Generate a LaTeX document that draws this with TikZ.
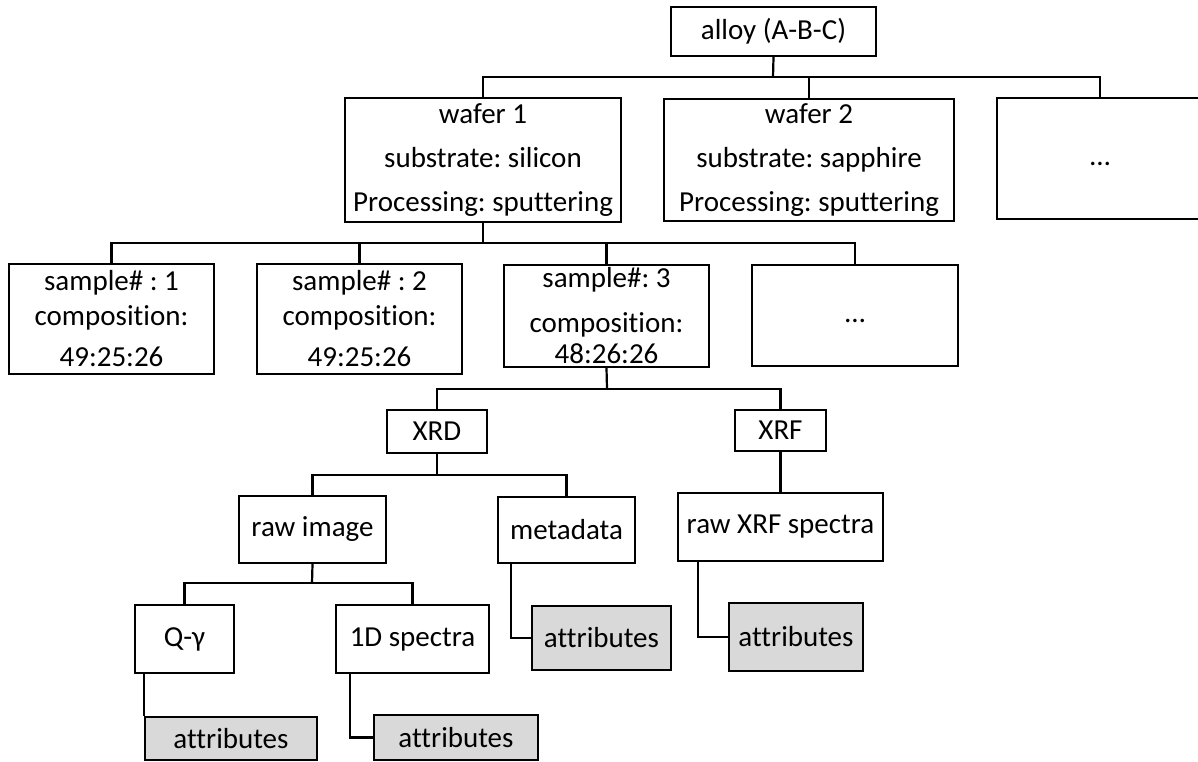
\documentclass[tikz,border=0pt]{standalone}
\usepackage{fontspec}
\setmainfont{Carlito}[Ligatures={NoCommon,NoContextual}]
\frenchspacing
\begin{document}
\begin{tikzpicture}[x=1pt,y=-1pt,
  box/.style={draw=black,line width=2pt,rectangle,inner sep=0pt,align=center,
    font=\fontsize{29}{38}\selectfont},
  attrbox/.style={box,fill=attrgray},
  conn/.style={draw=black,line width=2.2pt,line join=miter}]
\definecolor{attrgray}{HTML}{D9D9D9}
\useasboundingbox (0,0) rectangle (1198,761);
\clip (0,0) rectangle (1198,761);
% level 0
\node[box,minimum width=205pt,minimum height=49pt] (alloy) at (773.5,31.5) {alloy (A-B-C)};
% level 1
\node[box,minimum width=276pt,minimum height=124pt,font=\fontsize{29}{44}\selectfont] (wafer1) at (483,160)
  {wafer 1\\substrate: silicon\\Processing: sputtering};
\node[box,minimum width=290pt,minimum height=122pt,font=\fontsize{29}{44}\selectfont] (wafer2) at (809,160)
  {wafer 2\\substrate: sapphire\\Processing: sputtering};
\node[box,minimum width=206pt,minimum height=121pt] (dots1) at (1100,158.5) {\vphantom{Ag}…};
% level 2
\node[box,minimum width=205pt,minimum height=110pt] (sample1) at (111.5,319)
  {sample\# : 1\\[-3pt]composition:\\[3pt]49:25:26};
\node[box,minimum width=205pt,minimum height=110pt] (sample2) at (359.5,319)
  {sample\# : 2\\[-3pt]composition:\\[3pt]49:25:26};
\node[box,minimum width=205pt,minimum height=102pt] (sample3) at (606.5,316)
  {sample\#: 3\\[7pt]composition:\\[-7pt]48:26:26};
\node[box,minimum width=206pt,minimum height=101pt] (dots2) at (855,315.5) {\vphantom{Ag}…};
% level 3
\node[box,minimum width=100pt,minimum height=43pt] (xrd) at (437,431.5) {XRD};
\node[box,minimum width=91pt,minimum height=41pt] (xrf) at (780.5,430.5) {XRF};
% level 4
\node[box,minimum width=147pt,minimum height=67pt] (rawimg) at (312.5,529.5) {raw image};
\node[box,minimum width=137pt,minimum height=66pt] (meta) at (566.5,530) {metadata};
\node[box,minimum width=205pt,minimum height=68pt] (rawxrf) at (780.5,527) {raw XRF spectra};
% level 5
\node[box,minimum width=99pt,minimum height=68pt] (qg) at (184.5,639) {Q-γ};
\node[box,minimum width=153pt,minimum height=68pt] (spec) at (412.5,639) {1D spectra};
\node[attrbox,minimum width=139pt,minimum height=64pt] (attrmeta) at (601.5,638) {attributes};
\node[attrbox,minimum width=134pt,minimum height=68pt] (attrxrf) at (796,637) {attributes};
% level 6
\node[attrbox,minimum width=172pt,minimum height=43pt] (attrqg) at (231,738.5) {attributes};
\node[attrbox,minimum width=164pt,minimum height=45pt] (attrspec) at (456,737.5) {attributes};
% buses
\coordinate (bus1) at (773,77);
\coordinate (bus2) at (483,243);
\coordinate (bus3) at (607,389);
\coordinate (bus4) at (437,475);
\coordinate (bus5) at (312,583);
% connectors
\draw[conn] (alloy.south) -- (bus1);
\draw[conn] (wafer1.north) -- (wafer1.north |- bus1) -- (dots1.north |- bus1) -- (dots1.north);
\draw[conn] (wafer2.north) -- (wafer2.north |- bus1);
\draw[conn] (wafer1.south) -- (bus2);
\draw[conn] (sample1.north) -- (sample1.north |- bus2) -- (dots2.north |- bus2) -- (dots2.north);
\draw[conn] (sample2.north) -- (sample2.north |- bus2);
\draw[conn] (sample3.north) -- (sample3.north |- bus2);
\draw[conn] (sample3.south) -- (bus3);
\draw[conn] (xrd.north) -- (xrd.north |- bus3) -- (xrf.north |- bus3) -- (xrf.north);
\draw[conn] (xrd.south) -- (bus4);
\draw[conn] (rawimg.north) -- (rawimg.north |- bus4) -- (meta.north |- bus4) -- (meta.north);
\draw[conn] (xrf.south) -- (rawxrf.north);
\draw[conn] (rawimg.south) -- (bus5);
\draw[conn] (qg.north) -- (qg.north |- bus5) -- (spec.north |- bus5) -- (spec.north);
\draw[conn] ([xshift=10pt]qg.south west) |- (attrqg.north west);
\draw[conn] ([xshift=15pt]spec.south west) |- (attrspec.west);
\draw[conn] ([xshift=14pt]meta.south west) |- (attrmeta.west);
\draw[conn] ([xshift=21pt]rawxrf.south west) |- (attrxrf.west);
\end{tikzpicture}
\end{document}
